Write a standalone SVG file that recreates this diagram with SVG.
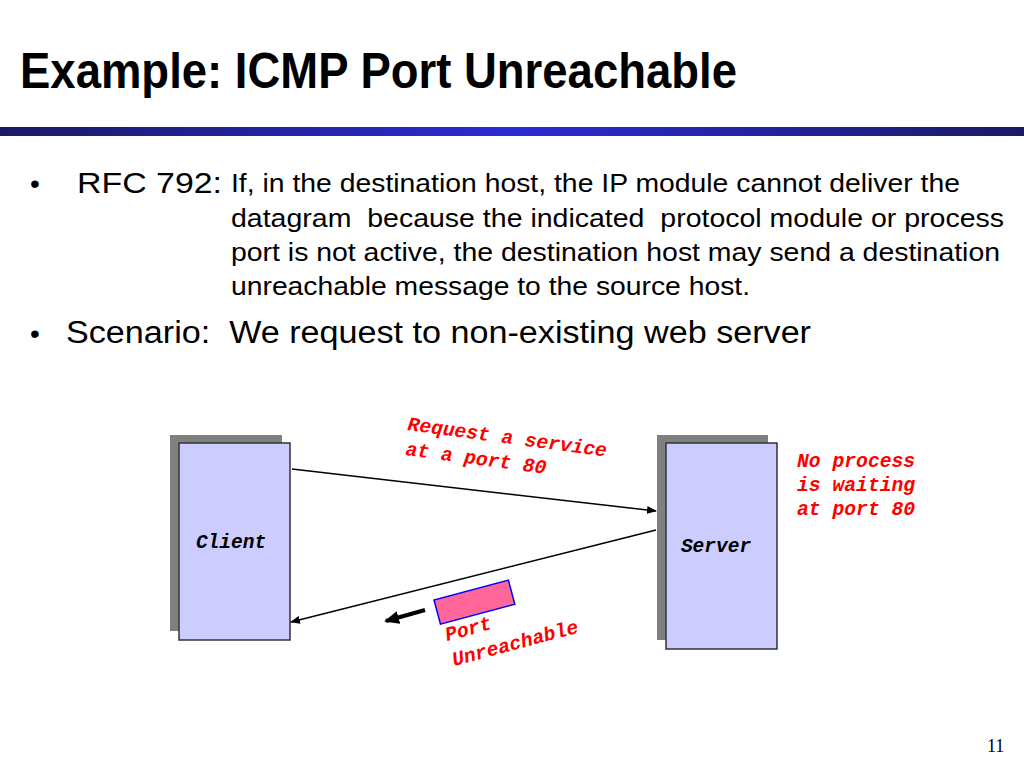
<svg xmlns="http://www.w3.org/2000/svg" width="1024" height="768" viewBox="0 0 1024 768">
<defs>
<linearGradient id="bar" x1="0" y1="0" x2="1" y2="0">
<stop offset="0" stop-color="#1a1a66"/>
<stop offset="0.5" stop-color="#2b2bd6"/>
<stop offset="1" stop-color="#1a1a66"/>
</linearGradient>
<marker id="ah" markerWidth="10" markerHeight="8" refX="9" refY="4" orient="auto" markerUnits="userSpaceOnUse">
<path d="M0,0 L10,4 L0,8 z" fill="#000"/>
</marker>
<marker id="ahb" markerWidth="15" markerHeight="13" refX="13" refY="6.5" orient="auto" markerUnits="userSpaceOnUse">
<path d="M0,0 L15,6.5 L0,13 z" fill="#000"/>
</marker>
<style>
.title{font-family:"Liberation Sans",Arial,sans-serif;font-weight:bold;font-size:50px;fill:#000}
.body{font-family:"Liberation Sans",Arial,sans-serif;fill:#000}
.red{font-family:"Liberation Mono","Courier New",monospace;font-weight:bold;font-style:italic;font-size:19.7px;fill:#ff0000}
.lbl{font-family:"Liberation Mono","Courier New",monospace;font-weight:bold;font-style:italic;font-size:19.5px;fill:#000}
.shadow{fill:#808080}
.box{fill:#ccccff;stroke:#333;stroke-width:1.5}
.conn{stroke:#000;stroke-width:1.5;fill:none}
</style>
</defs>
<rect width="1024" height="768" fill="#fff"/>
<text class="title" x="20" y="88" textLength="717" lengthAdjust="spacingAndGlyphs">Example: ICMP Port Unreachable</text>
<rect x="0" y="127" width="1024" height="9" fill="url(#bar)"/>
<text class="body" x="30" y="193" font-size="28">•</text>
<text class="body" x="77" y="193" font-size="30" textLength="145" lengthAdjust="spacingAndGlyphs">RFC 792:</text>
<text class="body" font-size="26" lengthAdjust="spacingAndGlyphs">
<tspan x="231" y="192" textLength="729" lengthAdjust="spacingAndGlyphs">If, in the destination host, the IP module cannot deliver the</tspan>
<tspan x="231" y="227" textLength="773" lengthAdjust="spacingAndGlyphs" xml:space="preserve">datagram  because the indicated  protocol module or process</tspan>
<tspan x="231" y="261" textLength="769" lengthAdjust="spacingAndGlyphs">port is not active, the destination host may send a destination</tspan>
<tspan x="231" y="295" textLength="519" lengthAdjust="spacingAndGlyphs">unreachable message to the source host.</tspan>
</text>
<text class="body" x="30" y="343" font-size="28">•</text>
<text class="body" x="66" y="343" font-size="31" textLength="745" lengthAdjust="spacingAndGlyphs" xml:space="preserve">Scenario:  We request to non-existing web server</text>
<g id="client">
<rect class="shadow" x="170" y="435" width="112" height="196"/>
<rect class="box" x="179" y="443" width="111" height="197"/>
<text class="lbl" x="231" y="548" text-anchor="middle">Client</text>
</g>
<g id="server">
<rect class="shadow" x="657" y="435" width="111" height="205"/>
<rect class="box" x="666" y="443" width="111" height="206"/>
<text class="lbl" x="716" y="552" text-anchor="middle">Server</text>
</g>
<g id="connectors">
<line class="conn" x1="292" y1="469" x2="656" y2="511" marker-end="url(#ah)"/>
<line class="conn" x1="656" y1="530" x2="291" y2="622" marker-end="url(#ah)"/>
<line x1="425" y1="610" x2="386" y2="621" stroke="#000" stroke-width="4" marker-end="url(#ahb)"/>
</g>
<g id="request-label">
<text class="red" transform="translate(407,430) rotate(7.6)">Request a service</text>
<text class="red" transform="translate(405,455) rotate(7.6)">at a port 80</text>
</g>
<g id="port-unreachable">
<rect x="0" y="0" width="77" height="25" fill="#ff6699" stroke="#0000ff" stroke-width="1.5" transform="translate(434,600) rotate(-15)"/>
<text class="red" transform="translate(447,641) rotate(-15)">Port</text>
<text class="red" transform="translate(454,666) rotate(-15)">Unreachable</text>
</g>
<g id="no-process">
<text class="red" x="797" y="467">No process</text>
<text class="red" x="797" y="491">is waiting</text>
<text class="red" x="797" y="515">at port 80</text>
</g>
<text x="987" y="752" font-family="Liberation Serif,serif" font-size="18" fill="#000">11</text>
</svg>
